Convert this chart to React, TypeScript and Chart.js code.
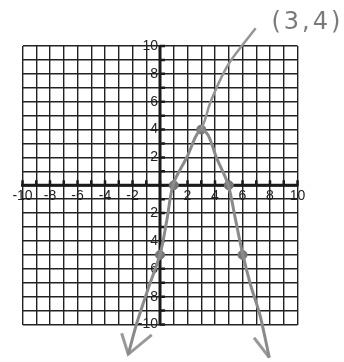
import React, { useEffect, useRef } from "react";
import { Chart, registerables } from "chart.js";

Chart.register(...registerables);

// Axis tick labels
const xTickValues = [-10, -8, -6, -4, -2, 2, 4, 6, 8, 10];
const xTickLabels = ["-10", "-8", "-6", "-4", "-2", "2", "4", "6", "8", "10"];
const yTickValues = [10, 8, 6, 4, 2, -2, -4, -6, -8, -10];
const yTickLabels = ["10", "8", "6", "4", "2", "-2", "-4", "-6", "-8", "-10"];

// Hand-drawn parabola
const curveX = [-2.31, -1.69, -0.85, 0, 0.5, 0.97, 2, 2.6, 3, 3.5, 4.1, 4.95, 5.5, 6.02, 6.6, 7.27, 7.95];
const curveY = [-12.14, -9.91, -7.4, -4.97, -2.5, 0.1, 2.1, 3.5, 4, 3.6, 2, 0.05, -2.5, -4.97, -7.2, -9.32, -12.38];

// Marked points
const markX = [1, 5, 0, 6, 3];
const markY = [0, 0, -5, -5, 4];

// Arrowheads
const leftArrowX = [-2.79, -2.31, -0.6];
const leftArrowY = [-10.63, -12.14, -10.75];
const rightArrowX = [6.84, 7.95];
const rightArrowY = [-10.95, -12.38];

// Pointer line from vertex to annotation
const pointerX = [3, 3.27, 3.64, 4.49, 5.09, 5.87, 6.96];
const pointerY = [4, 4.69, 5.89, 7.8, 8.87, 9.91, 11.27];

// Annotation
const noteText = "(3,4)";
const noteX = 8.1;
const noteY = 12.5;

const zip = (xs: number[], ys: number[]) => xs.map((x, i) => ({ x, y: ys[i] }));

const axesPlugin = {
  id: "centerAxes",
  beforeDatasetsDraw(chart: any) {
    const { ctx, chartArea, scales } = chart;
    const xs = scales.x;
    const ys = scales.y;
    const x0 = xs.getPixelForValue(0);
    const y0 = ys.getPixelForValue(0);
    ctx.save();
    ctx.strokeStyle = "#1a1a1a";
    ctx.lineWidth = 3;
    ctx.beginPath();
    ctx.moveTo(chartArea.left - 1.5, y0);
    ctx.lineTo(chartArea.right + 1, y0);
    ctx.moveTo(x0, chartArea.top - 1);
    ctx.lineTo(x0, chartArea.bottom + 1);
    ctx.stroke();
    // tick marks
    ctx.lineWidth = 2.5;
    ctx.beginPath();
    for (let v = -10; v <= 10; v++) {
      const px = xs.getPixelForValue(v);
      ctx.moveTo(px, y0);
      ctx.lineTo(px, y0 - 5);
      const py = ys.getPixelForValue(v);
      ctx.moveTo(x0, py);
      ctx.lineTo(x0 + 5, py);
    }
    ctx.stroke();
    // labels
    ctx.fillStyle = "#222";
    ctx.font = "14px 'Liberation Sans', Arial, sans-serif";
    ctx.textAlign = "center";
    ctx.textBaseline = "middle";
    xTickValues.forEach((v, i) => {
      ctx.fillText(xTickLabels[i], xs.getPixelForValue(v), y0 + 11);
    });
    ctx.textAlign = "right";
    yTickValues.forEach((v, i) => {
      ctx.fillText(yTickLabels[i], x0 - 2, ys.getPixelForValue(v));
    });
    ctx.restore();
  },
  afterDatasetsDraw(chart: any) {
    const { ctx, scales } = chart;
    ctx.save();
    ctx.fillStyle = "#7a7a7a";
    ctx.font = "24px 'DejaVu Sans', sans-serif";
    try { (ctx as any).letterSpacing = "3px"; } catch (e) {}
    ctx.textAlign = "left";
    ctx.textBaseline = "top";
    ctx.fillText(noteText, scales.x.getPixelForValue(noteX), scales.y.getPixelForValue(noteY));
    ctx.restore();
  },
};

export default function App() {
  const ref = useRef<HTMLCanvasElement | null>(null);
  useEffect(() => {
    if (!ref.current) return;
    const lineColor = "#8a8a8a";
    const chart = new Chart(ref.current, {
      type: "scatter",
      data: {
        datasets: [
          {
            data: zip(curveX, curveY),
            showLine: true,
            borderColor: lineColor,
            borderWidth: 3,
            pointRadius: 0,
            tension: 0.3,
            clip: false as any,
          },
          {
            data: zip(pointerX, pointerY),
            showLine: true,
            borderColor: "#959595",
            borderWidth: 2.5,
            pointRadius: 0,
            tension: 0.3,
            clip: false as any,
          },
          {
            data: zip(leftArrowX, leftArrowY),
            showLine: true,
            borderColor: "#999",
            borderWidth: 3,
            pointRadius: 0,
            tension: 0,
            clip: false as any,
          },
          {
            data: zip(rightArrowX, rightArrowY),
            showLine: true,
            borderColor: "#999",
            borderWidth: 3,
            pointRadius: 0,
            tension: 0,
            clip: false as any,
          },
          {
            data: zip(markX, markY),
            showLine: false,
            pointRadius: 4.5,
            pointBackgroundColor: "#777",
            pointBorderColor: "#777",
            clip: false as any,
          },
        ],
      },
      options: {
        animation: false,
        responsive: false,
        devicePixelRatio: 1,
        layout: { padding: { left: 22.5, top: 46, right: 46.5, bottom: 37.5 } },
        plugins: { legend: { display: false }, tooltip: { enabled: false }, title: { display: false } },
        scales: {
          x: {
            type: "linear",
            min: -10,
            max: 10,
            ticks: { display: false, stepSize: 1 },
            border: { display: false },
            grid: { color: "#222", lineWidth: 1.4, drawTicks: false },
          },
          y: {
            type: "linear",
            min: -10,
            max: 10,
            ticks: { display: false, stepSize: 1 },
            border: { display: false },
            grid: { color: "#222", lineWidth: 1.4, drawTicks: false },
          },
        },
      },
      plugins: [axesPlugin],
    });
    return () => chart.destroy();
  }, []);
  return (
    <div style={{ position: "fixed", left: 0, top: 0, width: 344, height: 362, background: "#fff" }}>
      <canvas ref={ref} width={344} height={362} style={{ display: "block" }} />
    </div>
  );
}
